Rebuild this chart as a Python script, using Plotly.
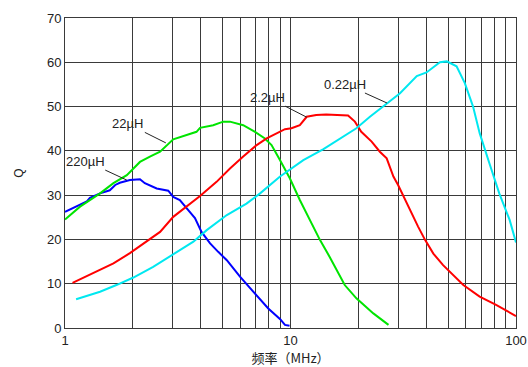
import plotly.graph_objects as go
import math

# 220uH
f_220 = [1.0, 1.25, 1.29, 1.43, 1.58, 1.67, 1.75, 1.94, 2.15, 2.26, 2.55, 2.87, 3.02, 3.23, 3.52, 3.77, 4.03, 4.4, 4.78, 5.22, 5.97, 6.96, 7.97, 9.0, 9.45, 9.9]
q_220 = [26.2, 28.6, 29.4, 30.4, 31.1, 32.3, 32.8, 33.4, 33.6, 32.7, 31.5, 31.0, 29.6, 28.9, 26.6, 24.8, 21.7, 19.1, 17.2, 15.3, 11.6, 7.8, 4.4, 2.0, 0.7, 0.5]

# 22uH
f_22 = [1.0, 1.166, 1.43, 1.64, 1.88, 2.15, 2.38, 2.64, 3.02, 3.46, 3.83, 3.97, 4.54, 5.03, 5.39, 6.17, 6.96, 7.7, 8.24, 8.99, 9.93, 11.0, 12.2, 13.5, 14.9, 17.4, 19.6, 23.3, 27.2]
q_22 = [24.5, 27.4, 30.4, 32.7, 34.5, 37.5, 38.7, 39.8, 42.6, 43.6, 44.3, 45.2, 45.8, 46.6, 46.6, 45.8, 44.3, 42.8, 41.3, 37.9, 33.8, 28.9, 24.4, 19.9, 16.1, 9.7, 6.7, 3.3, 0.7]

# 2.2uH
f_2p2 = [1.08, 1.43, 1.64, 1.94, 2.22, 2.64, 3.02, 3.46, 3.97, 4.7, 5.39, 6.17, 7.08, 7.84, 9.45, 10.1, 11.0, 11.8, 13.0, 14.4, 16.0, 18.0, 19.3, 20.6, 22.9, 24.9, 26.7, 28.6, 30.0, 31.0, 33.8, 36.8, 39.5, 43.0, 47.5, 52.0, 58.4, 69.0, 81.6, 100.0]
q_2p2 = [10.2, 13.1, 14.6, 16.9, 19.0, 21.7, 25.1, 27.5, 29.8, 33.0, 36.0, 38.7, 41.3, 42.8, 44.9, 45.1, 45.8, 47.7, 48.1, 48.2, 48.1, 48.0, 46.6, 44.3, 42.1, 39.8, 38.3, 34.2, 32.3, 30.8, 26.6, 22.9, 19.9, 16.8, 14.2, 12.3, 9.7, 7.1, 5.2, 2.7]

# 0.22uH
f_0p22 = [1.12, 1.43, 1.69, 2.01, 2.46, 2.92, 3.71, 4.25, 5.22, 6.38, 7.33, 8.99, 11.4, 14.0, 17.1, 19.6, 22.5, 26.7, 30.6, 36.3, 40.1, 46.0, 49.3, 54.5, 59.3, 64.5, 69.0, 76.2, 84.3, 93.7, 100.0]
q_0p22 = [6.5, 8.2, 9.7, 11.4, 13.8, 16.1, 19.5, 22.1, 25.5, 28.1, 30.4, 34.2, 37.9, 40.4, 43.3, 45.1, 47.7, 50.7, 53.0, 56.9, 57.7, 60.0, 60.2, 59.1, 55.3, 50.0, 44.0, 37.2, 30.4, 24.4, 19.3]

series = [
    ("220µH", f_220, q_220, "#0000ff"),
    ("22µH", f_22, q_22, "#00e400"),
    ("2.2µH", f_2p2, q_2p2, "#ff0000"),
    ("0.22µH", f_0p22, q_0p22, "#00e8f0"),
]

# label anchor points on curves (freq, Q) and pixel offsets of label
labels = [
    ("220µH", 1.88, 33.4, -41, -19),
    ("22µH", 2.8, 41.8, -38, -19),
    ("2.2µH", 11.8, 47.6, -39, -20),
    ("0.22µH", 26.8, 50.8, -42, -19),
]

x_grid = [1, 2, 3, 4, 5, 6, 7, 8, 9, 10, 20, 30, 40, 50, 60, 70, 80, 90, 100]
x_text = ["1", "", "", "", "", "", "", "", "", "10", "", "", "", "", "", "", "", "", "100"]

fig = go.Figure()
for name, f, q, c in series:
    fig.add_trace(go.Scatter(x=f, y=q, mode="lines", name=name,
                             line=dict(color=c, width=2), showlegend=False,
                             hoverinfo="skip"))

font = dict(family="Liberation Sans, Arial, sans-serif", size=13, color="#222")
for txt, fx, qy, ax, ay in labels:
    fig.add_annotation(x=math.log10(fx), y=qy, xref="x", yref="y", text=txt,
                       showarrow=True, arrowhead=0, arrowwidth=1, arrowcolor="#222",
                       ax=ax, ay=ay, font=font, standoff=0, bgcolor="rgba(255,255,255,0)")

fig.update_layout(
    width=528, height=367,
    margin=dict(l=65, r=12, t=18, b=39),
    paper_bgcolor="white", plot_bgcolor="white",
    font=font,
    xaxis=dict(type="log", range=[0, 2], tickvals=x_grid, ticktext=x_text,
               showgrid=True, gridcolor="#3a3a3a", gridwidth=1,
               showline=True, linecolor="#3a3a3a", linewidth=1, mirror=True,
               ticks="", zeroline=False, automargin=False,
               title=dict(text="频率（MHz）", font=dict(family="Noto Sans CJK SC, sans-serif", size=13, color="#222"), standoff=2)),
    yaxis=dict(range=[0, 70], dtick=10, showgrid=True, gridcolor="#3a3a3a", gridwidth=1,
               showline=True, linecolor="#3a3a3a", linewidth=1, mirror=True,
               ticks="", zeroline=False, automargin=False,
               title=dict(text="Q", font=dict(size=12), standoff=20)),
)

fig.write_html("out.html", config={"displayModeBar": False},
               post_script="document.body.style.margin='0';document.body.style.overflow='hidden';")
